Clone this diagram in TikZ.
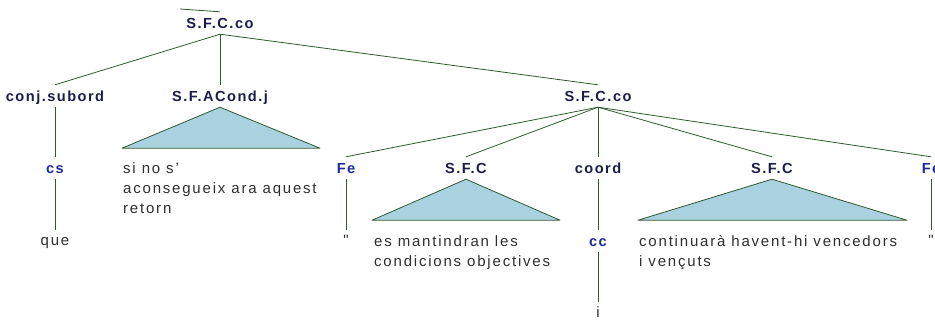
\documentclass[tikz,border=0pt]{standalone}
\usepackage{fontspec}
\setmainfont{Liberation Sans}
\newfontfamily\treefont[LetterSpace=10]{Liberation Sans}
\newfontfamily\leaffont[LetterSpace=12]{Liberation Sans}
\definecolor{catnavy}{HTML}{1C1C4C}
\definecolor{funblue}{HTML}{1E2A9C}
\definecolor{leafgray}{HTML}{2E2E2E}
\definecolor{edgegreen}{HTML}{2F5A2F}
\definecolor{roofblue}{HTML}{A9D1E0}
\tikzset{
  cat/.style={font=\treefont\bfseries\fontsize{14.6}{16}\selectfont, text=catnavy,
    inner sep=0pt, text height=10.5pt, text depth=0pt, minimum height=22pt},
  fun/.style={cat, text=funblue},
  word/.style={font=\leaffont\fontsize{15}{20}\selectfont, text=leafgray,
    inner sep=0pt, text height=8pt, text depth=0pt, minimum height=22pt},
  leaf/.style={font=\leaffont\fontsize{15}{20}\selectfont, text=leafgray,
    inner sep=0pt, align=left, anchor=north west},
  branch/.style={edgegreen, line width=0.8pt},
  roof/.style={draw=edgegreen, fill=roofblue, line width=0.8pt, line join=round},
}
\begin{document}
\begin{tikzpicture}[x=1pt,y=-1pt]
  \useasboundingbox (0,0) rectangle (935,322);
  % upper part of the tree
  \coordinate (stub) at (180,9);
  \node[cat] (root) at (220,23) {S.F.C.co};
  \node[cat] (csub) at (55,96)  {conj.subord};
  \node[cat] (cond) at (220,96) {S.F.ACond.j};
  \node[cat] (coco) at (598,96) {S.F.C.co};
  \draw[branch] (stub) -- (root.north);
  \draw[branch] (root.south) -- (csub.north);
  \draw[branch] (root.south) -- (cond.north);
  \draw[branch] (root.south) -- (coco.north);
  % the subordinating conjunction
  \node[fun]  (cs)  at (55,168) {cs};
  \node[word] (que) at (55,241) {que};
  \draw[branch] (csub.south) -- (cs.north);
  \draw[branch] (cs.south) -- (que.north);
  % the condition, as a roof
  \draw[roof] (cond.south) -- ++(100,41) -- ++(-198,0) -- cycle;
  \node[leaf] (condtxt) at (123,159)
        {\strut si no s’\\\strut aconsegueix ara aquest\\\strut retorn};
  % daughters of the coordinated clause
  \node[fun] (feL)  at (346,168) {Fe};
  \node[cat] (sfcA) at (466,168) {S.F.C};
  \node[cat] (crd)  at (598,168) {coord};
  \node[cat] (sfcB) at (772,168) {S.F.C};
  \node[fun] (feR)  at (931,168) {Fe};
  \foreach \d in {feL,sfcA,crd,sfcB,feR}
    \draw[branch] (coco.south) -- (\d.north);
  % punctuation
  \node[word] (quoL) at (346,241) {"};
  \node[word] (quoR) at (931,241) {"};
  \draw[branch] (feL.south) -- (quoL.north);
  \draw[branch] (feR.south) -- (quoR.north);
  % the two clauses, as roofs
  \draw[roof] (sfcA.south) -- ++(94,41) -- ++(-188,0) -- cycle;
  \node[leaf] (txtA) at (374,232)
        {\strut es mantindran les\\\strut condicions objectives};
  \draw[roof] (sfcB.south) -- ++(135,41) -- ++(-269,0) -- cycle;
  \node[leaf] (txtB) at (639,232)
        {\strut continuarà havent-hi vencedors\\\strut i vençuts};
  % the coordinator
  \node[fun]  (cc)   at (598,241) {cc};
  \node[word] (conj) at (598,313) {i};
  \draw[branch] (crd.south) -- (cc.north);
  \draw[branch] (cc.south) -- (conj.north);
\end{tikzpicture}
\end{document}
